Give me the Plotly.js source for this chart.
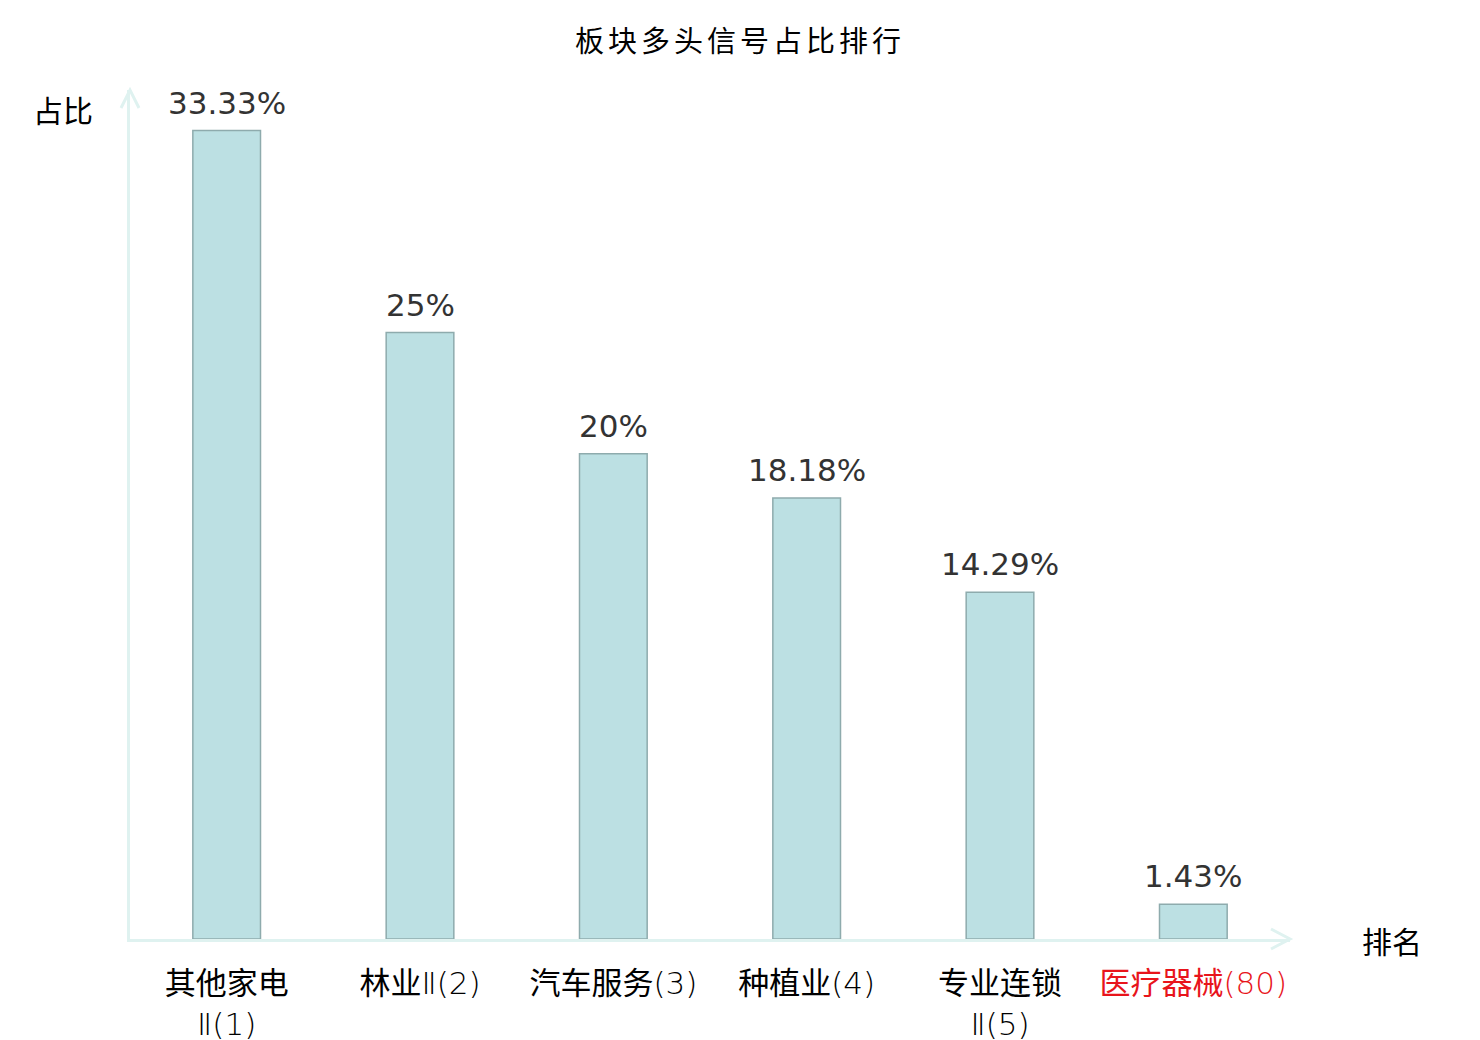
<!DOCTYPE html>
<html>
<head>
<meta charset="utf-8">
<script src="https://cdn.plot.ly/plotly-3.0.1.min.js"></script>
<style>
  html, body { margin: 0; padding: 0; background: #fff; }
  #chart { width: 1480px; height: 1040px; }
</style>
</head>
<body>
<div id="chart"></div>
<script>
var categories = ["其他家电Ⅱ(1)", "林业Ⅱ(2)", "汽车服务(3)", "种植业(4)", "专业连锁Ⅱ(5)", "医疗器械(80)"];
var tickLabels = [
  "其他家电<br>Ⅱ(1)",
  "林业Ⅱ(2)",
  "汽车服务(3)",
  "种植业(4)",
  "专业连锁<br>Ⅱ(5)",
  "<span style=\"color:#e8141b\">医疗器械(80)</span>"
];
var shares = [33.33, 25, 20, 18.18, 14.29, 1.43];
var shareLabels = ["33.33%", "25%", "20%", "18.18%", "14.29%", "1.43%"];

var AXIS_COLOR = "#dff2f0";
var FONT = "DejaVu Sans, Noto Sans CJK SC, sans-serif";
var CJK = "Noto Sans CJK SC, sans-serif";
var TICK_FONT = "DejaVu Sans ExtraLight, DejaVu Sans Light, Noto Sans CJK SC, sans-serif";

var trace = {
  type: "bar",
  x: categories,
  y: shares,
  width: 0.35,
  marker: { color: "#bce0e3", line: { color: "#8eabad", width: 1.5 } },
  hoverinfo: "x+y"
};

var valueNotes = categories.map(function (c, i) {
  return {
    text: shareLabels[i],
    x: c, y: shares[i],
    xref: "x", yref: "y",
    xanchor: "center", yanchor: "bottom",
    yshift: 8,
    showarrow: false,
    font: { family: FONT, size: 31, color: "#333333" }
  };
});

var layout = {
  width: 1480,
  height: 1040,
  margin: { t: 90, r: 190, b: 101, l: 130 },
  paper_bgcolor: "#ffffff",
  plot_bgcolor: "#ffffff",
  showlegend: false,
  font: { family: CJK, color: "#000000" },
  title: {
    text: "板块多头信号占比排行",
    x: 0.5,
    xref: "container",
    y: 1 - 42 / 1040,
    yref: "container",
    yanchor: "middle",
    font: { family: CJK, size: 29, color: "#000000" }
  },
  xaxis: {
    type: "category",
    range: [-0.5, 5.5],
    tickvals: categories,
    ticktext: tickLabels,
    tickfont: { family: TICK_FONT, size: 31, color: "#000000" },
    showline: true,
    linecolor: AXIS_COLOR,
    linewidth: 3,
    showgrid: false,
    zeroline: false,
    ticks: "",
    ticklabelstandoff: 15
  },
  yaxis: {
    range: [0, 35],
    showline: true,
    linecolor: AXIS_COLOR,
    linewidth: 3,
    showgrid: false,
    zeroline: false,
    showticklabels: false,
    ticks: ""
  },
  shapes: [
    {
      type: "path",
      xref: "paper", yref: "paper",
      xsizemode: "pixel", ysizemode: "pixel",
      xanchor: 1, yanchor: 0,
      path: "M -19 10 L 0 0 L -19 -10",
      line: { color: AXIS_COLOR, width: 3 }
    },
    {
      type: "path",
      xref: "paper", yref: "paper",
      xsizemode: "pixel", ysizemode: "pixel",
      xanchor: 0, yanchor: 1,
      path: "M -9 -18 L 0 0 L 9 -18",
      line: { color: AXIS_COLOR, width: 3 }
    }
  ],
  annotations: valueNotes.concat([
    {
      text: "占比",
      xref: "paper", yref: "paper",
      x: 0, y: 1,
      xshift: -67, yshift: -19,
      xanchor: "center", yanchor: "middle",
      showarrow: false,
      font: { family: CJK, size: 30, color: "#000000" }
    },
    {
      text: "排名",
      xref: "paper", yref: "paper",
      x: 1, y: 0,
      xshift: 102, yshift: -1,
      xanchor: "center", yanchor: "middle",
      showarrow: false,
      font: { family: CJK, size: 30, color: "#000000" }
    }
  ])
};

Plotly.newPlot("chart", [trace], layout, { displayModeBar: false, staticPlot: true }).then(function () {
  var t = document.querySelector(".gtitle");
  if (t) t.style.letterSpacing = "4px";
});
</script>
</body>
</html>
